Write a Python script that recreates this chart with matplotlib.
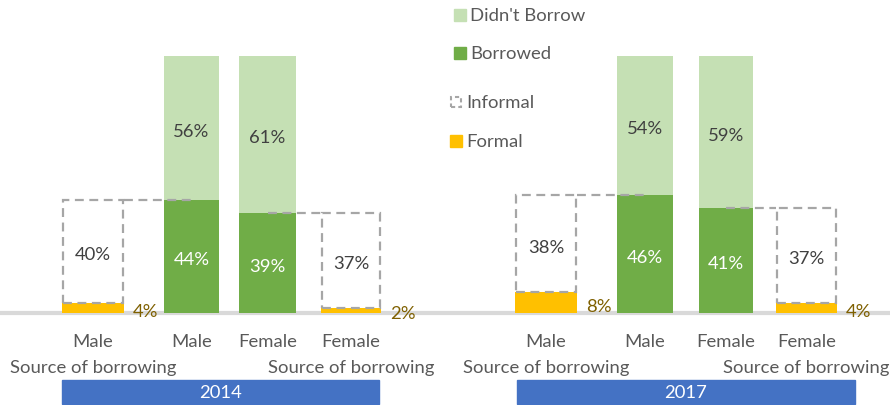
import numpy as np
import matplotlib.pyplot as plt
from matplotlib.patches import Rectangle
from matplotlib.transforms import blended_transform_factory, offset_copy

plt.rcParams['font.family'] = ['Lato', 'DejaVu Sans']

# borrowing shares by sex, one entry per survey year
years = ['2014', '2017']
male_borrowed = [44, 46]
male_didnt = [56, 54]
female_borrowed = [39, 41]
female_didnt = [61, 59]
male_formal = [4, 8]
male_informal = [40, 38]
female_formal = [2, 4]
female_informal = [37, 37]

sex_labels = ['Male', 'Male', 'Female', 'Female']
source_label = 'Source of borrowing'

# bar layout per panel (x in pixels across the figure)
centers = [[93, 191.5, 267.5, 351], [546, 645, 726, 806.5]]
widths = [[62, 55, 57, 60], [62, 56, 54, 61]]
year_box = [(62, 379), (517, 855)]

LIGHT_GREEN = '#C5E0B4'
GREEN = '#70AD47'
YELLOW = '#FFC000'
GOLD = '#7F6000'
DASH = '#A6A6A6'
BLUE = '#4472C4'
TEXT = '#595959'
DARK = '#404040'

W, H = 890, 406
fig = plt.figure(figsize=(W / 100, H / 100), dpi=100)
base_px, top_px = 314, 57
ax = fig.add_axes([0, (H - base_px) / H, 1, (base_px - top_px) / H])
ax.set_xlim(0, W)
ax.set_ylim(0, 100)
ax.axis('off')

# light grey category axis
ax.axhline(0, color='#D9D9D9', lw=3, zorder=1, clip_on=False)

fs = 13.3
below = blended_transform_factory(ax.transData, fig.transFigure)
# value labels sit a touch low, as in the source workbook
val_tr = offset_copy(ax.transData, fig=fig, x=0, y=-3, units='dots')

for i, year in enumerate(years):
    c = centers[i]
    w = widths[i]

    # formal + informal source bars
    for k, formal, informal in [(0, male_formal[i], male_informal[i]),
                                (3, female_formal[i], female_informal[i])]:
        ax.bar(c[k], formal, width=w[k], color=YELLOW, zorder=2)
        ax.bar(c[k], informal, bottom=formal, width=w[k] - 2, fill=False,
               edgecolor=DASH, linestyle=(0, (4, 2.5)), linewidth=1.6, zorder=3)
        ax.text(c[k], formal + informal / 2, f'{informal}%', ha='center',
                va='center', fontsize=fs, color=DARK, zorder=5,
                transform=val_tr)
        lbl_tr = offset_copy(ax.transData, fig=fig, x=9, y=-3, units='dots')
        ax.text(c[k] + w[k] / 2, formal / 2, f'{formal}%', ha='left',
                va='center', fontsize=fs, color=GOLD, transform=lbl_tr,
                zorder=5)

    # borrowed / didn't borrow
    for k, b, d in [(1, male_borrowed[i], male_didnt[i]),
                    (2, female_borrowed[i], female_didnt[i])]:
        ax.bar(c[k], b, width=w[k], color=GREEN, zorder=2)
        ax.bar(c[k], d, bottom=b, width=w[k], color=LIGHT_GREEN, zorder=2)
        ax.text(c[k], b / 2, f'{b}%', ha='center', va='center',
                fontsize=fs, color='white', zorder=5, transform=val_tr)
        ax.text(c[k], b + d / 2, f'{d}%', ha='center', va='center',
                fontsize=fs, color=DARK, zorder=5, transform=val_tr)

    # series lines joining the source boxes to the borrowed bars
    ax.plot([c[0] + w[0] / 2, c[1]],
            [male_formal[i] + male_informal[i], male_borrowed[i]],
            color=DASH, ls=(0, (4, 2.5)), lw=1.6, zorder=4)
    ax.plot([c[2], c[3] - w[3] / 2],
            [female_borrowed[i], female_formal[i] + female_informal[i]],
            color=DASH, ls=(0, (4, 2.5)), lw=1.6, zorder=4)

    # category labels
    for k in range(4):
        ax.text(c[k], (H - 342) / H, sex_labels[k], ha='center', va='center',
                fontsize=fs, color=TEXT, transform=below)
    for k in (0, 3):
        ax.text(c[k], (H - 368) / H, source_label, ha='center', va='center',
                fontsize=fs, color=TEXT, transform=below)

    # year band
    x0, x1 = year_box[i]
    fig.patches.append(Rectangle((x0 / W, (H - 405) / H), (x1 - x0) / W,
                                 24 / H, transform=fig.transFigure,
                                 color=BLUE, zorder=1))
    fig.text((x0 + x1) / 2 / W, (H - 393) / H, year, ha='center',
             va='center', fontsize=fs, color='white')

# legend, stacked down the middle
legend_items = [
    ('solid', LIGHT_GREEN, "Didn't Borrow", 454, 16),
    ('solid', GREEN, 'Borrowed', 454, 54),
    ('dash', DASH, 'Informal', 450, 103),
    ('solid', YELLOW, 'Formal', 450, 142),
]
for kind, color, name, x, y in legend_items:
    s = 12
    if kind == 'solid':
        sq = Rectangle((x / W, (H - y - s / 2) / H), s / W, s / H,
                       transform=fig.transFigure, color=color)
    else:
        sq = Rectangle(((x + 1) / W, (H - y - s / 2 + 1) / H), (s - 2) / W,
                       (s - 2) / H, transform=fig.transFigure, fill=False,
                       edgecolor=color, linestyle=(0, (2, 1.5)), lw=1.5)
    fig.patches.append(sq)
    fig.text((x + s + 4) / W, (H - y) / H, name, ha='left', va='center',
             fontsize=fs, color=TEXT)

fig.savefig('out.png', dpi=100)
